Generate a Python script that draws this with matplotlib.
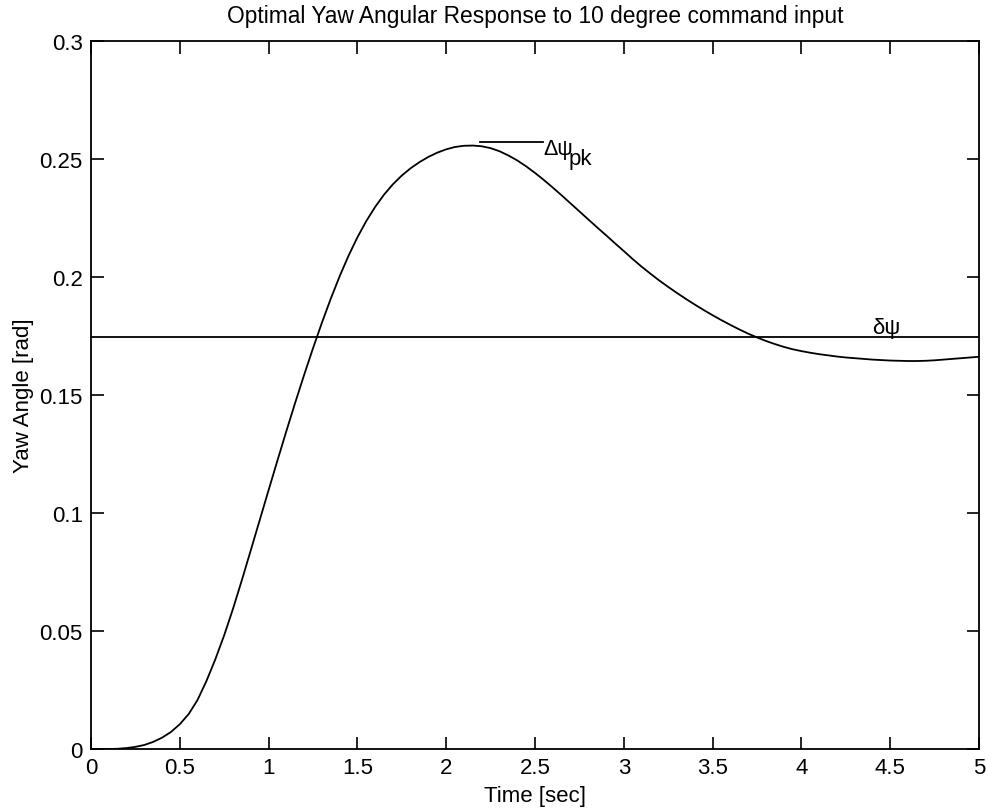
import numpy as np
import matplotlib
matplotlib.use("Agg")
import matplotlib.pyplot as plt

plt.rcParams['font.family'] = ['Liberation Sans', 'DejaVu Sans']

# Yaw angle response read at 0.05 s steps
time_s = np.round(np.arange(0, 5.001, 0.05), 2)
yaw_rad = [0.0000, 0.0000, 0.0000, 0.0001, 0.0004, 0.0009, 0.0017, 0.0030, 0.0048, 0.0072,
           0.0105, 0.0148, 0.0208, 0.0288, 0.0380, 0.0482, 0.0595, 0.0717, 0.0843, 0.0970,
           0.1097, 0.1223, 0.1347, 0.1468, 0.1585, 0.1698, 0.1806, 0.1908, 0.2003, 0.2090,
           0.2168, 0.2237, 0.2297, 0.2349, 0.2393, 0.2430, 0.2461, 0.2487, 0.2509, 0.2527,
           0.2541, 0.2551, 0.2556, 0.2557, 0.2554, 0.2546, 0.2533, 0.2515, 0.2494, 0.2469,
           0.2441, 0.2411, 0.2379, 0.2346, 0.2312, 0.2278, 0.2244, 0.2210, 0.2177, 0.2143,
           0.2110, 0.2076, 0.2044, 0.2014, 0.1985, 0.1958, 0.1932, 0.1907, 0.1883, 0.1860,
           0.1838, 0.1817, 0.1797, 0.1778, 0.1760, 0.1744, 0.1729, 0.1716, 0.1704, 0.1694,
           0.1686, 0.1679, 0.1673, 0.1668, 0.1663, 0.1659, 0.1656, 0.1653, 0.1650, 0.1648,
           0.1646, 0.1645, 0.1644, 0.1644, 0.1645, 0.1647, 0.1650, 0.1653, 0.1656, 0.1659,
           0.1662]

cmd_deg = 10.0                      # commanded yaw step (deg)
cmd_rad = np.deg2rad(cmd_deg)
peak_t = [2.19, 2.545]               # leader line for the peak label
peak_y = 0.2571

fig = plt.figure(figsize=(9.87, 8.12), dpi=100)
ax = fig.add_axes([91/987, 62/812, 888/987, 708/812])

ax.plot(time_s, yaw_rad, 'k-', lw=1.3)
ax.plot([0, 5], [cmd_rad, cmd_rad], 'k-', lw=1.3)
ax.plot(peak_t, [peak_y, peak_y], 'k-', lw=1.3)

# labels for the overshoot and the command level
ax.text(peak_t[1], 0.2521, '\u0394\u03c8', fontsize=15.5, ha='left', va='baseline')
ax.text(2.69, 0.2479, 'pk', fontsize=16, ha='left', va='baseline')
ax.text(4.40, 0.1762, '\u03b4\u03c8', fontsize=16, ha='left', va='baseline')

ax.set_xlim(0, 5)
ax.set_ylim(0, 0.3)
ax.set_xticks(np.arange(0, 5.01, 0.5))
ax.set_xticklabels(['0', '0.5', '1', '1.5', '2', '2.5', '3', '3.5', '4', '4.5', '5'])
ax.set_yticks(np.arange(0, 0.301, 0.05))
ax.set_yticklabels(['0', '0.05', '0.1', '0.15', '0.2', '0.25', '0.3'])
ax.tick_params(direction='in', length=9, width=1.2, labelsize=16,
               top=True, right=True, pad=6)
for sp in ax.spines.values():
    sp.set_linewidth(1.3)

ax.set_title('Optimal Yaw Angular Response to 10 degree command input', fontsize=16.4, pad=14)
ax.set_xlabel('Time [sec]', fontsize=16, labelpad=5)
ax.set_ylabel('Yaw Angle [rad]', fontsize=16, labelpad=4)

fig.savefig('out.png', dpi=100)
